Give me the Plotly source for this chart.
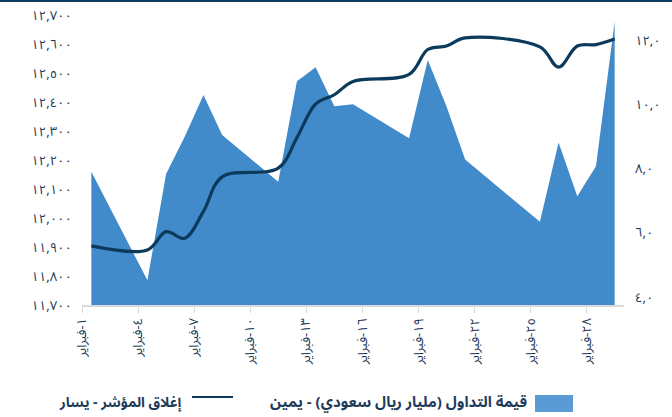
import plotly.graph_objects as go

# ---- data ----
days = [1, 4, 5, 6, 7, 8, 11, 12, 13, 14, 15, 18, 19, 20, 21, 25, 26, 27, 28, 29]
turnover = [7.90, 4.52, 7.83, 9.00, 10.29, 9.04, 7.59, 10.72, 11.15, 9.94, 10.00,
            8.94, 11.38, 9.94, 8.28, 6.34, 8.81, 7.14, 8.07, 12.57]
index_close = [11904, 11890, 11953, 11930, 12023, 12142, 12172, 12277, 12393, 12425, 12471,
               12495, 12581, 12593, 12621, 12590, 12520, 12593, 12598, 12617]

x_tick_days = [1, 4, 7, 10, 13, 16, 19, 22, 25, 28]
x_tick_labels = ["١-فبراير", "٤-فبراير", "٧-فبراير", "١٠-فبراير", "١٣-فبراير",
                 "١٦-فبراير", "١٩-فبراير", "٢٢-فبراير", "٢٥-فبراير", "٢٨-فبراير"]
left_tick_vals = [11700, 11800, 11900, 12000, 12100, 12200, 12300, 12400, 12500, 12600, 12700]
left_tick_labels = ["١١,٧٠٠", "١١,٨٠٠", "١١,٩٠٠", "١٢,٠٠٠", "١٢,١٠٠", "١٢,٢٠٠",
                    "١٢,٣٠٠", "١٢,٤٠٠", "١٢,٥٠٠", "١٢,٦٠٠", "١٢,٧٠٠"]
right_tick_vals = [4, 6, 8, 10, 12]
right_tick_labels = ["٤,٠", "٦,٠", "٨,٠", "١٠,٠", "١٢,٠"]

legend_area = "قيمة التداول (مليار ريال سعودي) - يمين"
legend_line = "إغلاق المؤشر - يسار"

AREA = "#428BCA"
NAVY = "#0B3A5C"
TXT = "#1E3B5A"
FONT = "Noto Sans Arabic, DejaVu Sans, sans-serif"

fig = go.Figure()
fig.add_trace(go.Scatter(
    x=days, y=turnover, yaxis="y", mode="lines",
    line=dict(width=0, color=AREA), fill="tozeroy", fillcolor=AREA,
    showlegend=False, hoverinfo="skip"))
fig.add_trace(go.Scatter(
    x=days, y=index_close, yaxis="y2", mode="lines",
    line=dict(width=3.2, color=NAVY, shape="spline", smoothing=1.0),
    showlegend=False))

fig.update_layout(
    width=672, height=417,
    margin=dict(l=82, r=48, t=15, b=112, autoexpand=False),
    paper_bgcolor="white", plot_bgcolor="white",
    font=dict(family=FONT, size=13, color=TXT),
    showlegend=False,
    xaxis=dict(range=[0.5, 29.5], automargin=False,
               tickvals=[d - 0.5 for d in x_tick_days], ticktext=x_tick_labels,
               tickangle=-90, showgrid=False, zeroline=False,
               showline=True, linecolor="#D9D9D9", linewidth=1.5,
               ticks="outside", ticklen=6, tickcolor="#D9D9D9",
               tickfont=dict(size=13, color=TXT)),
    yaxis=dict(side="right", range=[3.75, 12.78], tickvals=right_tick_vals, automargin=False,
               ticktext=right_tick_labels, showgrid=False, zeroline=False,
               showline=False, ticks="", ticklabelstandoff=10,
               tickfont=dict(size=13, color=TXT)),
    yaxis2=dict(side="left", overlaying="y", range=[11700, 12700], automargin=False,
                tickvals=left_tick_vals, ticktext=left_tick_labels,
                showgrid=False, zeroline=False, showline=False, ticks="",
                ticklabelstandoff=9, tickfont=dict(size=13, color=TXT)),
)

W, H = 542.0, 290.0
def px(x):
    return (x - 82) / W
def py(y):
    return (305 - y) / H

shapes = [
    dict(type="line", xref="paper", yref="paper", x0=px(0), x1=px(672), y0=py(1), y1=py(1),
         line=dict(color=NAVY, width=2)),
    dict(type="rect", xref="paper", yref="paper", x0=px(535), x1=px(573), y0=py(412), y1=py(395),
         fillcolor="#5B9BD5", line=dict(width=0)),
    dict(type="line", xref="paper", yref="paper", x0=px(192), x1=px(233), y0=py(397), y1=py(397),
         line=dict(color=NAVY, width=2)),
]
fig.update_layout(shapes=shapes)
fig.add_annotation(xref="paper", yref="paper", x=px(528), y=py(402), xanchor="right", yanchor="middle",
                   text="<b>" + legend_area + "</b>", showarrow=False, borderpad=0,
                   font=dict(family=FONT, size=15, color=TXT))
fig.add_annotation(xref="paper", yref="paper", x=px(183), y=py(402), xanchor="right", yanchor="middle",
                   text="<b>" + legend_line + "</b>", showarrow=False, borderpad=0,
                   font=dict(family=FONT, size=14, color=TXT))

fig.write_html("out.html", config={"displayModeBar": False},
               post_script="document.body.style.margin='0';")
